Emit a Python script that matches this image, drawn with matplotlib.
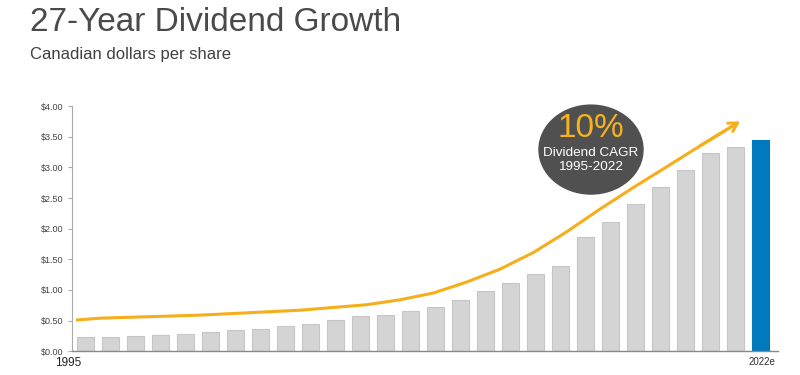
import numpy as np
import matplotlib.pyplot as plt
from matplotlib.patches import Ellipse

# dividend per share, CAD, 1995 .. 2022e
years = [str(y) for y in range(1995, 2022)] + ['2022e']
dividends = [0.24, 0.24, 0.25, 0.26, 0.29, 0.31, 0.34, 0.37, 0.41, 0.45,
             0.51, 0.57, 0.60, 0.65, 0.73, 0.84, 0.98, 1.12, 1.26, 1.39,
             1.86, 2.11, 2.41, 2.68, 2.95, 3.24, 3.33, 3.44]

# trend arrow (x in bar index units)
trend_x = [-0.38, 0.58, 4.58, 8.58, 11.25, 12.58, 13.91, 15.25, 16.58,
           17.91, 19.25, 20.58, 21.91, 23.25, 24.58, 25.91, 26.18]
trend_y = [0.51, 0.54, 0.59, 0.67, 0.76, 0.84, 0.95, 1.13, 1.34,
           1.61, 1.95, 2.32, 2.67, 3.01, 3.35, 3.68, 3.75]

yticks = [0, 0.5, 1, 1.5, 2, 2.5, 3, 3.5, 4]

GRAY = '#D4D4D4'
BLUE = '#0079BD'
GOLD = '#F6AE1A'

fig = plt.figure(figsize=(8, 3.75), dpi=100)
ax = fig.add_axes([0.09, 0.0632, 0.8825, 0.654])

x = np.arange(len(dividends))
colors = [GRAY] * (len(dividends) - 1) + [BLUE]
edges = ['#C6C6C6'] * (len(dividends) - 1) + [BLUE]
ax.bar(x, dividends, width=0.7, color=colors, edgecolor=edges, linewidth=0.8, zorder=2)

ax.plot(trend_x[:-1], trend_y[:-1], color=GOLD, lw=2.2, solid_capstyle='butt',
        solid_joinstyle='round', zorder=3)
ax.annotate('', xy=(trend_x[-1], trend_y[-1]), xytext=(trend_x[-3], trend_y[-3]),
            arrowprops=dict(arrowstyle='->,head_length=0.6,head_width=0.35',
                            color=GOLD, lw=2.2, shrinkA=0, shrinkB=0), zorder=3)

ax.set_xlim(-0.54, 27.7)
ax.set_ylim(0, 4)
ax.set_yticks(yticks)
ax.set_yticklabels(['$%.2f' % v for v in yticks], fontsize=6.5, color='#444444',
                   family='Liberation Sans')
ax.set_xticks([])
ax.tick_params(axis='y', length=3, width=0.8, color='#AAAAAA', pad=3)
for s in ['top', 'right']:
    ax.spines[s].set_visible(False)
ax.spines['left'].set_color('#AAAAAA')
ax.spines['bottom'].set_color('#888888')
ax.spines['bottom'].set_linewidth(1.0)

ax.text(-0.7, -0.1, years[0], ha='center', va='top', fontsize=8.5, color='#222222',
        family='Liberation Sans')
ax.text(27.05, -0.1, years[-1], ha='center', va='top', fontsize=7, color='#333333',
        family='Liberation Sans')

# CAGR bubble
ax.add_patch(Ellipse((20.22, 3.29), 4.16, 1.45, color='#505050', zorder=4, clip_on=False))
ax.text(20.22, 3.64, '10%', ha='center', va='center', fontsize=24, color='#F7B21C',
        family='Liberation Sans', zorder=5)
ax.text(20.22, 3.24, 'Dividend CAGR', ha='center', va='center', fontsize=9.7,
        color='white', family='Liberation Sans', zorder=5)
ax.text(20.22, 3.00, '1995-2022', ha='center', va='center', fontsize=9.7,
        color='white', family='Liberation Sans', zorder=5)

fig.text(0.0375, 0.918, '27-Year Dividend Growth', fontsize=24, color='#4A4A4A',
         family='Liberation Sans', va='baseline')
fig.text(0.0375, 0.842, 'Canadian dollars per share', fontsize=12, color='#404040',
         family='Liberation Sans', va='baseline')

fig.savefig('out.png', dpi=100)
